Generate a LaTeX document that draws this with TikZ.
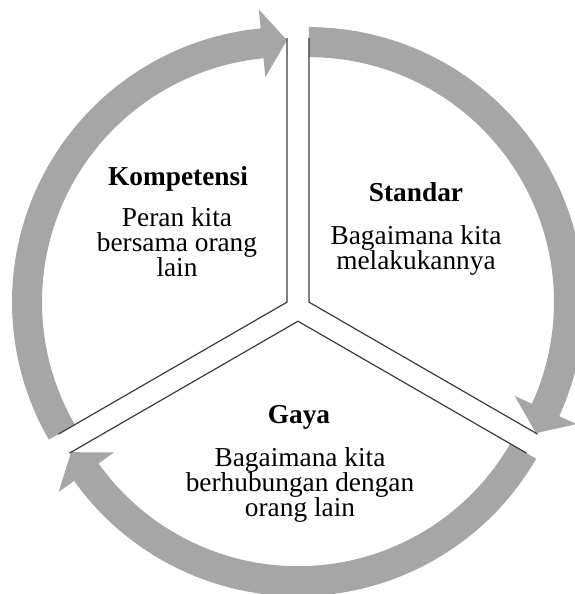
\documentclass[tikz,border=0pt]{standalone}
\usepackage{fontspec}
\setmainfont{Liberation Serif}
\usepackage{xcolor}
\usepackage{tikz}
\usetikzlibrary{positioning}
\definecolor{abu}{RGB}{166,166,166}
\definecolor{garis}{RGB}{60,60,60}

\begin{document}
\begin{tikzpicture}[x=0.75pt,y=0.75pt,
  panah/.style={fill=abu,draw=none},
  sisi/.style={garis,line width=0.9pt,line join=miter},
  judul/.style={font=\fontsize{20.5}{19}\selectfont\bfseries,inner sep=0pt,anchor=base},
  isi/.style={font=\fontsize{20.5}{19}\selectfont,align=center,inner sep=0pt,anchor=base}]
\useasboundingbox (0,0) rectangle (575,594);
\clip (0,0) rectangle (575,594);
\coordinate (pusat) at (298,285.5);
% potongan dan panah melingkar
\foreach \bis/\awal/\akhir in {150/210/90, 30/90/-30, 270/330/210}{
  \pgfmathsetmacro{\dasar}{\akhir+5.5}
  \begin{scope}[shift={(pusat)},shift={(\bis:12.7)}]
    \fill[panah] (\awal:245) arc[start angle=\awal,end angle=\dasar,radius=245]
      -- (\dasar:226) -- (\akhir:262) -- (\dasar:294) -- (\dasar:275)
      arc[start angle=\dasar,end angle=\awal,radius=275] -- cycle;
    \draw[sisi] (\awal:264) -- (0,0) -- (\akhir:264);
  \end{scope}
}
% teks (anchor base = baris terakhir)
\node[judul] (kompetensi) at (178,408) {Kompetensi};
\node[isi] (peran) at (177,317) {Peran kita\\bersama orang\\lain};
\node[judul] (standar) at (416,392) {Standar};
\node[isi] (lakukan) at (416,324) {Bagaimana kita\\melakukannya};
\node[judul] (gaya) at (299,171) {Gaya};
\node[isi] (hubungan) at (300,77) {Bagaimana kita\\berhubungan dengan\\orang lain};
\end{tikzpicture}
\end{document}
